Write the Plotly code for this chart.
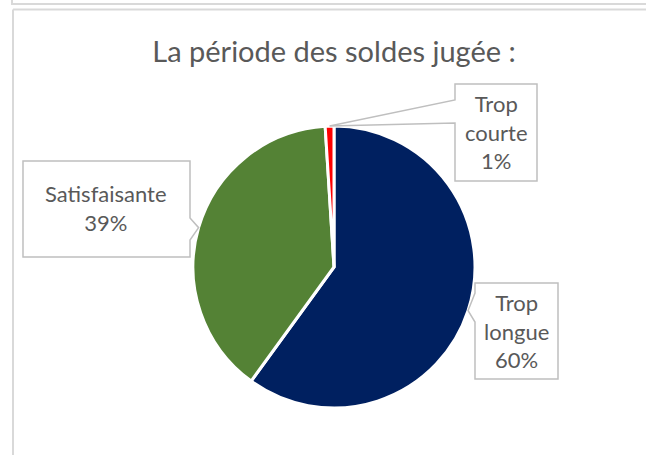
import math
import plotly.graph_objects as go

# ---- data ----
categories = ["Trop longue", "Satisfaisante", "Trop courte"]
values = [60, 39, 1]
labels_pct = ["60%", "39%", "1%"]
label_lines = ["Trop<br>longue", "Satisfaisante", "Trop<br>courte"]
colors = ["#002060", "#548235", "#FF0000"]
title_text = "La période des soldes jugée :"

W, H = 646, 455
CX, CY, R = 334, 267, 141  # pie centre/radius in pixels

def px(x):
    return x / W

def py(y):
    return 1 - y / H

fig = go.Figure()
fig.add_trace(go.Pie(
    labels=categories,
    values=values,
    sort=False,
    direction="clockwise",
    rotation=0,
    marker=dict(colors=colors, line=dict(color="white", width=3)),
    textinfo="none",
    hoverinfo="label+percent",
    showlegend=False,
    domain=dict(x=[px(CX - R), px(CX + R)], y=[py(CY + R), py(CY - R)]),
))

# mid-angle tip points on pie edge, computed from data
total = sum(values)
tips = []
cum = 0
for v in values:
    mid = (cum + v / 2) / total * 2 * math.pi
    tips.append((CX + R * math.sin(mid), CY - R * math.cos(mid)))
    cum += v

# callout boxes: (x0, y0, x1, y1, side, notch_a, notch_b)
boxes = [
    (475, 283, 558, 379, "left", 293, 322),
    (23, 161, 190, 257, "right", 218, 240),
    (455, 84, 537, 181, "left", 100, 123),
]

shapes = []
annotations = []
GRAY = "#BFBFBF"
TXT = "#595959"
for i, (x0, y0, x1, y1, side, na, nb) in enumerate(boxes):
    tx, ty = tips[i]
    if side == "left":
        pts = [(x0, y0), (x1, y0), (x1, y1), (x0, y1), (x0, nb), (tx, ty), (x0, na)]
    else:
        pts = [(x0, y0), (x1, y0), (x1, na), (tx, ty), (x1, nb), (x1, y1), (x0, y1)]
    path = "M " + " L ".join(f"{px(a):.5f},{py(b):.5f}" for a, b in pts) + " Z"
    shapes.append(dict(type="path", xref="paper", yref="paper", path=path,
                       line=dict(color=GRAY, width=1.5), fillcolor="white", layer="above"))
    annotations.append(dict(
        xref="paper", yref="paper", x=px((x0 + x1) / 2), y=py((y0 + y1) / 2 - 0.5),
        text=f"{label_lines[i]}<br>{labels_pct[i]}", showarrow=False,
        xanchor="center", yanchor="middle", align="center",
        font=dict(family="Lato, Carlito, Calibri, sans-serif", size=22, color=TXT),
    ))

# frame lines
FR = "#D9D9D9"
shapes += [
    dict(type="line", xref="paper", yref="paper", x0=px(11), x1=px(646), y0=py(4), y1=py(4),
         line=dict(color=FR, width=2)),
    dict(type="line", xref="paper", yref="paper", x0=px(12), x1=px(12), y0=py(0), y1=py(4),
         line=dict(color=FR, width=2)),
    dict(type="line", xref="paper", yref="paper", x0=px(13), x1=px(646), y0=py(9.5), y1=py(9.5),
         line=dict(color=FR, width=2)),
    dict(type="line", xref="paper", yref="paper", x0=px(13), x1=px(13), y0=py(9.5), y1=py(455),
         line=dict(color=FR, width=2)),
]

fig.update_layout(
    width=W, height=H,
    margin=dict(l=0, r=0, t=0, b=0),
    paper_bgcolor="white", plot_bgcolor="white",
    title=dict(text=title_text, x=px(334), y=py(52), xanchor="center", yanchor="middle",
               font=dict(family="Lato, Carlito, Calibri, sans-serif", size=29, color=TXT)),
    shapes=shapes,
    annotations=annotations,
)

fig.write_html("out.html", config={"displayModeBar": False},
               post_script="document.body.style.margin='0';document.body.style.overflow='hidden';")
